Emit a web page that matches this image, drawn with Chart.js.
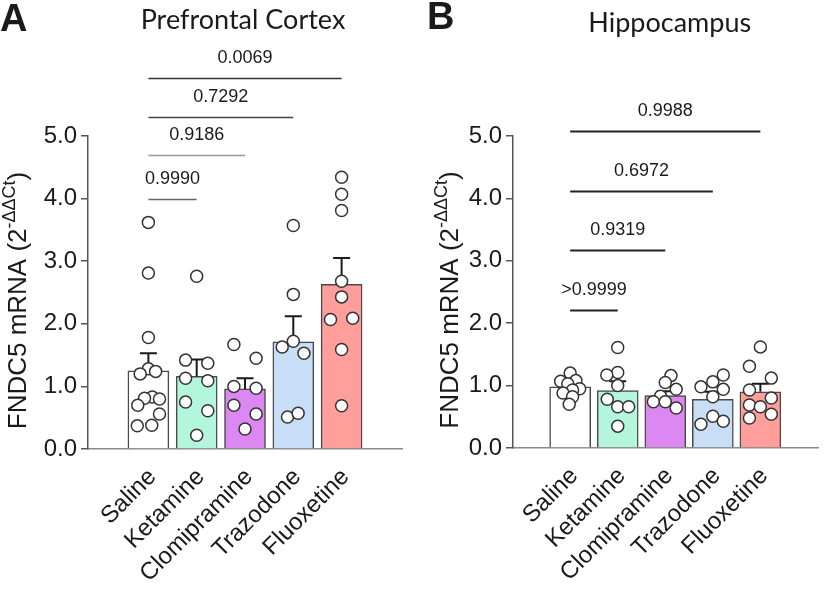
<!DOCTYPE html>
<html>
<head>
<meta charset="utf-8">
<script src="https://cdn.jsdelivr.net/npm/chart.js@4.4.1/dist/chart.umd.min.js"></script>
<style>
  html, body { margin: 0; padding: 0; background: #fff; }
  #wrap { position: relative; width: 826px; height: 590px; }
  .panel { position: absolute; top: 0; width: 413px; height: 590px; }
  #panelA { left: 0; }
  #panelB { left: 413px; }
</style>
</head>
<body>
<div id="wrap">
  <div class="panel" id="panelA"><canvas id="chartA"></canvas></div>
  <div class="panel" id="panelB"><canvas id="chartB"></canvas></div>
</div>
<script>
const groups = ['Saline', 'Ketamine', 'Clomipramine', 'Trazodone', 'Fluoxetine'];
const barColors = ['#ffffff', '#b4f5de', '#dc88f2', '#c8ddf6', '#ff9e9b'];
const yTicks = [0, 1, 2, 3, 4, 5];

// A - prefrontal cortex
const pfcMeans = [1.25, 1.16, 0.96, 1.71, 2.63];
const pfcSem = [0.28, 0.27, 0.17, 0.41, 0.42];
const pfcPoints = [
  [3.62, 2.81, 1.78, 1.28, 1.24, 1.20, 0.83, 0.81, 0.80, 0.70, 0.56, 0.38, 0.37],
  [2.76, 1.42, 1.37, 1.13, 1.09, 0.75, 0.61, 0.22],
  [1.67, 1.45, 1.00, 0.97, 0.70, 0.56, 0.32],
  [3.57, 2.47, 1.72, 1.63, 1.53, 0.51, 0.57],
  [4.34, 4.07, 3.81, 2.68, 2.43, 2.07, 2.09, 1.59, 0.69]
];
const pfcJitter = [
  [0, 0, 0, 0, 0.15, -0.17, 0.08, -0.08, 0.23, -0.22, 0.23, 0.07, -0.23],
  [0, -0.23, 0.23, -0.23, 0.23, -0.23, 0.23, 0],
  [-0.23, 0.23, -0.23, 0.23, -0.23, 0.23, 0],
  [0, 0, 0, -0.23, 0.22, -0.12, 0.1],
  [0, 0, 0, 0, 0, -0.23, 0.23, 0, 0]
];
const pfcPLabels = ['0.9990', '0.9186', '0.7292', '0.0069'];
const pfcPEnd = [1, 2, 3, 4];
const pfcPLevel = [3.99, 4.70, 5.31, 5.92];

// B - hippocampus
const hipMeans = [0.98, 0.92, 0.84, 0.78, 0.90];
const hipSem = [0.02, 0.15, 0.07, 0.12, 0.13];
const hipPoints = [
  [1.20, 1.08, 1.07, 1.03, 0.95, 0.93, 0.88, 0.82, 0.70],
  [1.61, 1.21, 1.17, 1.00, 0.78, 0.66, 0.66, 0.35],
  [1.16, 1.05, 0.94, 0.83, 0.74, 0.74, 0.64],
  [1.17, 1.06, 0.98, 0.94, 0.82, 0.51, 0.43, 0.38],
  [1.62, 1.31, 1.12, 0.93, 0.80, 0.69, 0.66, 0.54, 0.48]
];
const hipJitter = [
  [0, 0.12, -0.2, -0.05, 0.2, 0.05, -0.15, 0.05, -0.02],
  [0, 0, -0.23, 0, -0.22, 0, 0.23, 0],
  [0.12, 0, 0.23, -0.1, -0.25, 0, 0.23],
  [0.22, 0, -0.25, 0.22, 0, 0, 0.22, -0.25],
  [0, -0.23, 0.23, -0.23, 0.23, -0.23, 0, 0.23, -0.23]
];
const hipPLabels = ['>0.9999', '0.9319', '0.6972', '0.9988'];
const hipPEnd = [1, 2, 3, 4];
const hipPLevel = [2.21, 3.17, 4.12, 5.08];

const sansFamily = '"Liberation Sans", Arial, sans-serif';
const axisFont = { family: sansFamily, size: 24 };
const textColor = '#1a1a1a';

function overlay(cfg) {
  return {
    id: 'overlay' + cfg.letter,
    afterDatasetDraw(chart, args) {
      if (args.index !== 0) return;
      const { ctx, scales: { x, y } } = chart;
      ctx.save();
      ctx.strokeStyle = '#1a1a1a';
      ctx.lineWidth = 2;
      cfg.means.forEach((m, i) => {
        const px = x.getPixelForValue(i);
        const base = y.getPixelForValue(m);
        const top = y.getPixelForValue(m + cfg.sem[i]);
        ctx.beginPath();
        ctx.moveTo(px, base);
        ctx.lineTo(px, top);
        ctx.moveTo(px - 8.5, top);
        ctx.lineTo(px + 8.5, top);
        ctx.stroke();
      });
      ctx.restore();
    },
    afterDraw(chart) {
      const { ctx, chartArea, scales: { x, y } } = chart;
      ctx.save();
      // comparison lines
      ctx.font = '18px ' + sansFamily;
      ctx.textAlign = 'center';
      ctx.textBaseline = 'middle';
      cfg.pLabels.forEach((lab, k) => {
        const x0 = x.getPixelForValue(0);
        const x1 = x.getPixelForValue(cfg.pEnd[k]);
        const py = Math.round(y.getPixelForValue(cfg.pLevel[k])) + 0.5;
        ctx.strokeStyle = cfg.lineColors[k];
        ctx.lineWidth = cfg.lineWidth;
        ctx.beginPath();
        ctx.moveTo(x0, py);
        ctx.lineTo(x1, py);
        ctx.stroke();
        ctx.fillStyle = textColor;
        ctx.fillText(lab, (x0 + x1) / 2, py - 20);
      });

      // panel title
      ctx.fillStyle = textColor;
      ctx.font = '27px Lato, "Open Sans", sans-serif';
      ctx.textBaseline = 'alphabetic';
      ctx.fillText(cfg.title, (chartArea.left + chartArea.right) / 2 + cfg.titleDx, cfg.titleY);

      // panel letter
      ctx.textAlign = 'left';
      ctx.font = 'bold 38px ' + sansFamily;
      ctx.fillText(cfg.letter, cfg.letterX, cfg.letterY);

      // y axis title with superscript
      const mainFont = '26px ' + sansFamily;
      const supFont = '18px ' + sansFamily;
      const t1 = 'FNDC5 mRNA (2', t2 = '-\u0394\u0394Ct', t3 = ')';
      ctx.font = mainFont;
      const w1 = ctx.measureText(t1).width, w3 = ctx.measureText(t3).width;
      ctx.font = supFont;
      const w2 = ctx.measureText(t2).width;
      const total = w1 + w2 + w3;
      ctx.translate(cfg.yTitleX, (chartArea.top + chartArea.bottom) / 2 + 8);
      ctx.rotate(-Math.PI / 2);
      let cx = -total / 2;
      ctx.font = mainFont;
      ctx.fillText(t1, cx, 0);
      cx += w1;
      ctx.font = supFont;
      ctx.fillText(t2, cx, -11);
      cx += w2;
      ctx.font = mainFont;
      ctx.fillText(t3, cx, 0);
      ctx.restore();
    }
  };
}

function makeChart(id, cfg) {
  const barData = cfg.means.map((m, i) => ({ x: i, y: m }));
  const pointData = cfg.points.flatMap((vals, i) =>
    vals.map((v, k) => ({ x: i + cfg.jitter[i][k], y: v })));

  return new Chart(document.getElementById(id), {
    type: 'bar',
    data: {
      datasets: [
        {
          type: 'bar',
          data: barData,
          backgroundColor: barColors,
          borderColor: '#4a4a4a',
          borderWidth: 1.5,
          barThickness: 41,
          order: 2
        },
        {
          type: 'scatter',
          data: pointData,
          pointRadius: 6,
          pointBackgroundColor: '#ffffff',
          pointBorderColor: '#333333',
          pointBorderWidth: 1.5,
          clip: false,
          order: 1
        }
      ]
    },
    options: {
      responsive: true,
      maintainAspectRatio: false,
      animation: false,
      layout: { padding: { top: 136, right: cfg.padRight, left: 0, bottom: 0 } },
      plugins: { legend: { display: false }, tooltip: { enabled: false } },
      scales: {
        x: {
          type: 'linear',
          min: cfg.xMin,
          max: cfg.xMax,
          afterBuildTicks: s => { s.ticks = groups.map((g, i) => ({ value: i })); },
          afterFit: s => { s.height = cfg.xAxisHeight; },
          ticks: {
            autoSkip: false,
            minRotation: 45,
            maxRotation: 45,
            padding: 14,
            labelOffset: 4,
            font: axisFont,
            color: textColor,
            callback: v => groups[v]
          },
          grid: { display: false, drawTicks: false },
          border: { display: true, color: '#8a8a8a', width: 1.5 }
        },
        y: {
          min: 0,
          max: 5,
          afterBuildTicks: s => { s.ticks = yTicks.map(v => ({ value: v })); },
          afterFit: s => { s.width = cfg.yAxisWidth; },
          ticks: {
            padding: 4,
            font: axisFont,
            color: textColor,
            callback: v => v.toFixed(1)
          },
          grid: { drawOnChartArea: false, drawTicks: true, tickLength: 7, color: '#555', lineWidth: 1.5 },
          border: { color: '#555', width: 1.5 }
        }
      }
    },
    plugins: [overlay(cfg)]
  });
}

makeChart('chartA', {
  letter: 'A', letterX: 0, letterY: 31,
  title: 'Prefrontal Cortex', titleY: 29, titleDx: -2,
  means: pfcMeans, sem: pfcSem, points: pfcPoints, jitter: pfcJitter,
  pLabels: pfcPLabels, pEnd: pfcPEnd, pLevel: pfcPLevel,
  lineColors: ['#666', '#999', '#444', '#333'], lineWidth: 1.5,
  xMin: -0.6, xMax: 4.6, yAxisWidth: 88, xAxisHeight: 141, padRight: 11,
  yTitleX: 26
});

makeChart('chartB', {
  letter: 'B', letterX: 14, letterY: 29,
  title: 'Hippocampus', titleY: 32, titleDx: 4,
  means: hipMeans, sem: hipSem, points: hipPoints, jitter: hipJitter,
  pLabels: hipPLabels, pEnd: hipPEnd, pLevel: hipPLevel,
  lineColors: ['#222', '#222', '#222', '#222'], lineWidth: 2,
  xMin: -0.56, xMax: 4.58, yAxisWidth: 100, xAxisHeight: 142, padRight: 1,
  yTitleX: 45
});
</script>
</body>
</html>
